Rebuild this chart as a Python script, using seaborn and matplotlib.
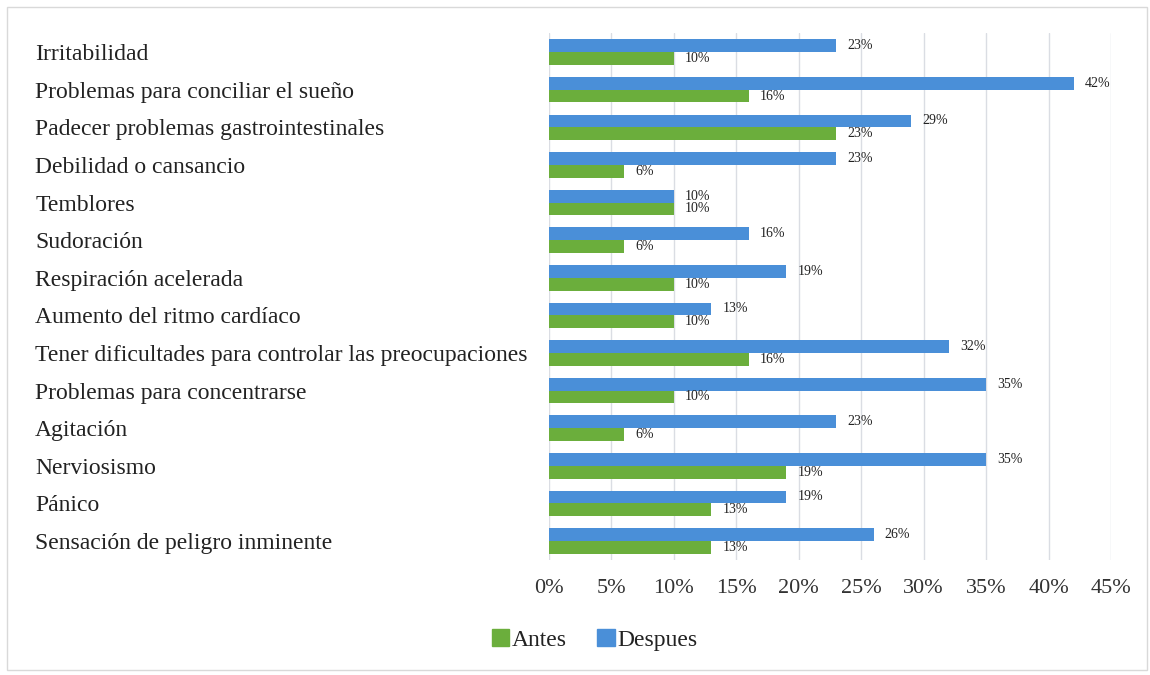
import pandas as pd
import seaborn as sns
import matplotlib.pyplot as plt
from matplotlib.patches import Rectangle, Patch

# Datos (porcentaje de participantes)
sintomas = ["Irritabilidad",
            "Problemas para conciliar el sueño",
            "Padecer problemas gastrointestinales",
            "Debilidad o cansancio",
            "Temblores",
            "Sudoración",
            "Respiración acelerada",
            "Aumento del ritmo cardíaco",
            "Tener dificultades para controlar las preocupaciones",
            "Problemas para concentrarse",
            "Agitación",
            "Nerviosismo",
            "Pánico",
            "Sensación de peligro inminente"]
despues = [23, 42, 29, 23, 10, 16, 19, 13, 32, 35, 23, 35, 19, 26]
antes = [10, 16, 23, 6, 10, 6, 10, 10, 16, 10, 6, 19, 13, 13]
ticks = [0, 5, 10, 15, 20, 25, 30, 35, 40, 45]

azul = "#4A8FD8"
verde = "#6BAE3C"

df = pd.DataFrame({"sintoma": sintomas * 2,
                   "valor": despues + antes,
                   "momento": ["Despues"] * len(sintomas) + ["Antes"] * len(sintomas)})

sns.set_style("white")
plt.rcParams["font.family"] = ["Liberation Serif", "DejaVu Serif"]

fig = plt.figure(figsize=(11.5, 6.75), dpi=100)
ax = fig.add_axes([0.4774, 0.1707, 0.4887, 0.780])

sns.barplot(data=df, y="sintoma", x="valor", hue="momento",
            hue_order=["Despues", "Antes"], palette=[azul, verde],
            order=sintomas, width=0.68, orient="h", saturation=1,
            linewidth=0, ax=ax, legend=False)

# etiquetas de valor al final de cada barra
for cont in ax.containers:
    ax.bar_label(cont, labels=[f"{int(v)}%" for v in cont.datavalues],
                 padding=8, fontsize=10, color="#222222")

ax.set_xlim(0, 45)
ax.set_xticks(ticks)
ax.set_xticklabels([f"{t}%" for t in ticks], fontsize=16, color="#333333")
ax.set_xlabel("")
ax.set_ylabel("")
ax.grid(axis="x", color="#dadde3", linewidth=1)
ax.set_axisbelow(True)
for s in ax.spines.values():
    s.set_visible(False)

# nombres de sintomas alineados a la izquierda
ax.tick_params(axis="y", length=0, pad=370, labelsize=17, labelcolor="#222222")
ax.tick_params(axis="x", length=0, pad=14)
for lbl in ax.get_yticklabels():
    lbl.set_horizontalalignment("left")

# leyenda abajo
handles = [Patch(color=verde, label="Antes"), Patch(color=azul, label="Despues")]
fig.legend(handles=handles, loc="center", bbox_to_anchor=(0.517, 0.052), ncol=2,
           frameon=False, fontsize=17, handlelength=0.75, handleheight=0.75,
           handletextpad=0.1, columnspacing=1.3, labelcolor="#222222")

# marco gris alrededor de la figura
fig.patches.append(Rectangle((0.006, 0.008), 0.991, 0.982, transform=fig.transFigure,
                             fill=False, edgecolor="#d9d9d9", linewidth=1))

fig.savefig("out.png", dpi=100)
plt.close()
